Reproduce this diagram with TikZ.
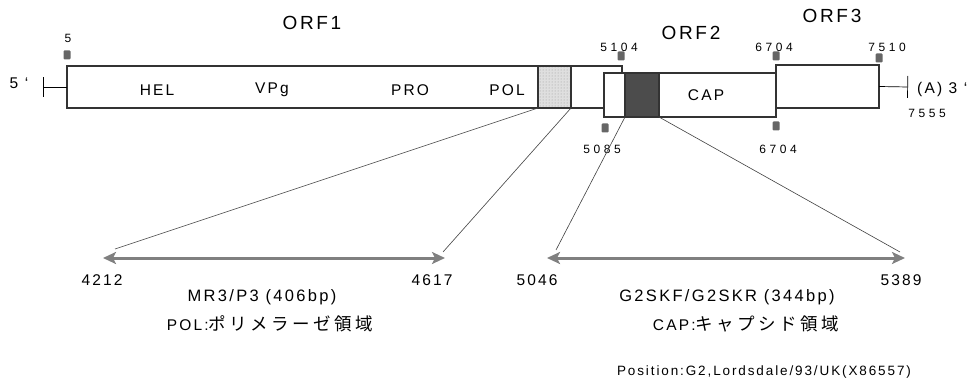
\documentclass[tikz,border=0pt]{standalone}
\usepackage{fontspec}
\setmainfont{Liberation Sans}[LetterSpace=14]
\newfontfamily\numfont{Liberation Sans}[LetterSpace=30]
\newfontfamily\jpfont{Noto Sans CJK JP}[LetterSpace=20]
\usetikzlibrary{arrows.meta,patterns}

\begin{document}
\begin{tikzpicture}[
    x=1pt, y=-1pt,
    >={Stealth[length=13pt,width=12pt,inset=3pt]},
    box/.style={rectangle, draw=black!80, line width=1.8pt, fill=white, inner sep=0pt, outer sep=0pt},
    sitemark/.style={rectangle, rounded corners=1pt, fill=black!60, minimum width=7pt, minimum height=9pt, inner sep=0pt},
    orf/.style={inner sep=0pt, font=\fontsize{19}{21}\selectfont},
    lbl/.style={inner sep=0pt, font=\fontsize{15.5}{18}\selectfont},
    capt/.style={inner sep=0pt, font=\fontsize{16.5}{19}\selectfont},
    num/.style={inner sep=0pt, font=\numfont\fontsize{12}{14}\selectfont},
    guide/.style={draw=black!75, line width=0.6pt},
    span/.style={<->, draw=black!50, line width=3pt}
]
  \useasboundingbox (0,0) rectangle (974,385);

  %--- genome boxes ---
  \node[box, minimum width=555pt, minimum height=42pt] (orf1) at (344.5,87) {};
  \node[box, preaction={fill=gray!25}, pattern=dots, pattern color=gray!80,
        minimum width=33pt, minimum height=42pt] (pol) at (554.5,87) {};
  \node[box, minimum width=172pt, minimum height=44pt] (orf2) at (690,95) {};
  \node[box, fill=black!70, minimum width=34pt, minimum height=44pt] (cap) at (642,95) {};
  \node[box, minimum width=103pt, minimum height=43pt] (orf3) at (827.5,86.5) {};

  %--- region names ---
  \node[lbl] (hel) at (157,90) {HEL};
  \node[lbl] (vpg) at (272,90) {VPg};
  \node[lbl] (pro) at (410,90) {PRO};
  \node[lbl] (poltxt) at (507,90) {POL};
  \node[lbl] (captxt) at (706,95) {CAP};

  \node[orf] (orf1lbl) at (312,23) {ORF1};
  \node[orf] (orf2lbl) at (691,33) {ORF2};
  \node[orf] (orf3lbl) at (832,16) {ORF3};

  %--- ends ---
  \coordinate (end5) at (43,87);
  \coordinate (end3) at (908,87);
  \draw[{Bar[width=20pt]}-, line width=0.7pt] (end5) -- (orf1.west);
  \draw[-{Bar[width=22pt]}, line width=0.7pt] (orf3.east) -- (end3);
  \node[lbl] (p5) at (19,83) {5 ‘};
  \node[lbl, anchor=west] (p3) at (917,89) {(A) 3 ‘};
  \node[num] (n7555) at (927,113) {7555};

  %--- positions ---
  \node[sitemark] (m5)    at (67,55)  {};
  \node[sitemark] (m5104) at (621,56) {};
  \node[sitemark] (m6704) at (776,56) {};
  \node[sitemark] (m7510) at (879,58) {};
  \node[sitemark] (m5085) at (605,128) {};
  \node[sitemark] (m6704b) at (776,126) {};
  \node[num] (n5)     at (68,38)  {5};
  \node[num] (n5104)  at (619,47) {5104};
  \node[num] (n6704)  at (774,47) {6704};
  \node[num] (n7510)  at (887,47) {7510};
  \node[num] (n5085)  at (602,149) {5085};
  \node[num] (n6704b) at (778,149) {6704};

  %--- amplicons ---
  \coordinate (mrL) at (103,258);
  \coordinate (mrR) at (445,258);
  \coordinate (gsL) at (547,258);
  \coordinate (gsR) at (905,258);
  \coordinate (mrLtop) at (115,249);
  \coordinate (mrRtop) at (443,252);
  \coordinate (gsLtop) at (556,250);
  \coordinate (gsRtop) at (900,252);
  \draw[span] (mrL) -- (mrR);
  \draw[span] (gsL) -- (gsR);
  \draw[guide] (pol.south west) -- (mrLtop);
  \draw[guide] (pol.south east) -- (mrRtop);
  \draw[guide] (cap.south west) -- (gsLtop);
  \draw[guide] (cap.south east) -- (gsRtop);

  \node[lbl] (n4212) at (102,280) {4212};
  \node[lbl] (n4617) at (432,280) {4617};
  \node[lbl] (n5046) at (537,280) {5046};
  \node[lbl] (n5389) at (901,280) {5389};
  \node[capt] (mrname) at (262,297) {MR3/P3 (406bp)};
  \node[capt] (gsname) at (727,297) {G2SKF/G2SKR (344bp)};
  \node[lbl] (polnote) at (270,324) {POL:\jpfont\fontsize{17.5}{19}\selectfont ポリメラーゼ領域};
  \node[lbl] (capnote) at (746,324) {CAP:\jpfont\fontsize{17.5}{19}\selectfont キャプシド領域};

  \node[inner sep=0pt, font=\fontsize{13.5}{15}\selectfont] (strain) at (764,372) {Position:G2,Lordsdale/93/UK(X86557)};
\end{tikzpicture}
\end{document}
